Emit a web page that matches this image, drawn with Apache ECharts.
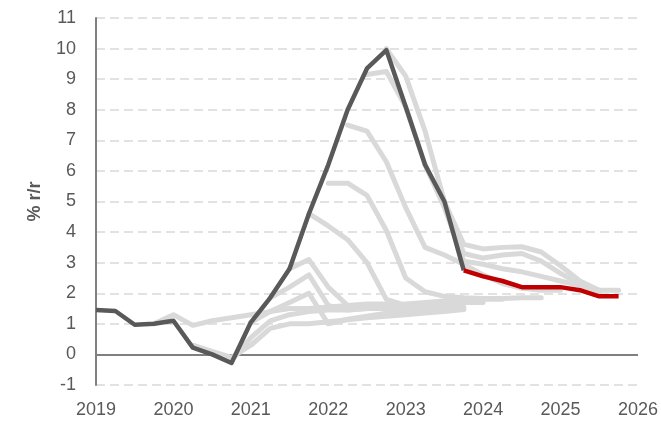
<!DOCTYPE html>
<html>
<head>
<meta charset="utf-8">
<script src="https://cdn.jsdelivr.net/npm/echarts@6/dist/echarts.min.js"></script>
<style>
html,body{margin:0;padding:0;background:#fff;}
#chart{width:661px;height:421px;}
</style>
</head>
<body>
<div id="chart"></div>
<script>
// x tick labels (years)
const yearTicks = [2019, 2020, 2021, 2022, 2023, 2024, 2025, 2026];
// y tick labels
const yTicks = [-1, 0, 1, 2, 3, 4, 5, 6, 7, 8, 9, 10, 11];

// actual CPI % y/y, quarterly from 2019Q1
const actualStart = 2019.0;
const actualValues = [1.45, 1.42, 0.97, 1.0, 1.1, 0.22, 0.0, -0.28, 1.05, 1.85, 2.8, 4.6, 6.2, 8.0, 9.35, 9.95, 8.1, 6.2, 5.0, 2.75];

// latest projection, quarterly from 2023Q4
const forecastStart = 2023.75;
const forecastValues = [2.75, 2.55, 2.4, 2.2, 2.2, 2.2, 2.1, 1.9, 1.9];

// earlier projection vintages (start quarter + quarterly values)
const vintageStarts = [2019.75, 2020.25, 2020.75, 2021.0, 2021.25, 2021.5, 2021.75, 2022.0, 2022.25, 2022.5, 2022.75, 2023.25];
const vintage1  = [1.0, 1.3, 0.95, 1.1, 1.2, 1.3, 1.4, 1.5, 1.5, 1.55, 1.6, 1.65, 1.65];
const vintage2  = [0.3, 0.1, -0.1, 0.3, 0.85, 1.0, 1.0, 1.07, 1.13, 1.2, 1.25, 1.3, 1.35, 1.4, 1.47];
const vintage3  = [-0.2, 0.55, 1.1, 1.3, 1.4, 1.45, 1.45, 1.5, 1.5, 1.5, 1.5, 1.5, 1.55];
const vintage4  = [1.05, 1.4, 1.7, 2.0, 1.0, 1.15, 1.25, 1.35, 1.4, 1.45, 1.5, 1.5];
const vintage5  = [1.85, 2.2, 2.6, 1.6, 1.45, 1.5, 1.55, 1.6, 1.65, 1.7, 1.7, 1.7];
const vintage6  = [2.8, 3.1, 2.2, 1.6, 1.55, 1.6, 1.65, 1.7, 1.75, 1.8, 1.8, 1.8];
const vintage7  = [4.6, 4.2, 3.75, 3.0, 1.8, 1.6, 1.55, 1.55, 1.5];
const vintage8  = [5.6, 5.6, 5.2, 4.05, 2.5, 2.05, 1.9, 1.85, 1.83, 1.83, 1.85, 1.85];
const vintage9  = [7.5, 7.3, 6.3, 4.8, 3.5, 3.25, 2.95, 2.6, 2.32, 2.16, 2.1, 2.1];
const vintage10 = [9.15, 9.25, 8.1, 6.2, 4.9, 3.3, 3.15, 3.25, 3.3, 3.05, 2.65, 2.3, 2.05];
const vintage11 = [10.0, 9.1, 7.3, 5.0, 3.6, 3.45, 3.5, 3.52, 3.35, 2.9, 2.4, 2.1, 2.1];
const vintage12 = [6.2, 4.8, 3.05, 2.95, 2.8, 2.7, 2.55, 2.4, 2.25, 2.1];

const vintages = [vintage1, vintage2, vintage3, vintage4, vintage5, vintage6, vintage7, vintage8, vintage9, vintage10, vintage11, vintage12];

function toPairs(start, vals) {
  return vals.map((v, i) => [start + i * 0.25, v]);
}

const FONT = 'Liberation Sans, Arial, sans-serif';

const series = [];
vintages.forEach((vals, k) => {
  const s = {
    type: 'line',
    data: toPairs(vintageStarts[k], vals),
    symbol: 'none',
    silent: true,
    lineStyle: { color: '#d9d9d9', width: 5, join: 'round', cap: 'round' },
    z: 2
  };
  if (k === 0) {
    s.markLine = {
      silent: true,
      symbol: 'none',
      label: { show: false },
      lineStyle: { color: '#808080', width: 2, type: 'solid' },
      data: [{ yAxis: 0 }],
      z: 1
    };
  }
  series.push(s);
});
series.push({
  type: 'line',
  data: toPairs(actualStart, actualValues),
  symbol: 'none',
  lineStyle: { color: '#595959', width: 4.5, join: 'round' },
  z: 4
});
series.push({
  type: 'line',
  data: toPairs(forecastStart, forecastValues),
  symbol: 'none',
  lineStyle: { color: '#c00000', width: 4.5, join: 'round' },
  z: 5
});

const chart = echarts.init(document.getElementById('chart'), null, { renderer: 'canvas' });
chart.setOption({
  animation: false,
  backgroundColor: '#ffffff',
  grid: { left: 96, right: 23, top: 18, bottom: 36, containLabel: false },
  xAxis: {
    type: 'value',
    min: yearTicks[0],
    max: yearTicks[yearTicks.length - 1],
    interval: 1,
    axisLine: { show: false },
    axisTick: { show: false },
    splitLine: { show: false },
    axisLabel: {
      margin: 16,
      color: '#595959',
      fontSize: 18,
      fontFamily: FONT,
      formatter: v => String(v)
    }
  },
  yAxis: {
    type: 'value',
    min: yTicks[0],
    max: yTicks[yTicks.length - 1],
    interval: 1,
    name: '% r/r',
    nameLocation: 'middle',
    nameRotate: 90,
    nameGap: 52,
    nameTextStyle: { color: '#595959', fontSize: 18, fontWeight: 'bold', fontFamily: FONT },
    axisLine: { show: true, lineStyle: { color: '#808080', width: 2 } },
    axisTick: { show: false },
    splitLine: { show: true, lineStyle: { color: '#d9d9d9', width: 1.5, type: [9, 5] } },
    axisLabel: {
      margin: 20,
      color: '#595959',
      fontSize: 18,
      fontFamily: FONT
    }
  },
  series: series
});
</script>
</body>
</html>
